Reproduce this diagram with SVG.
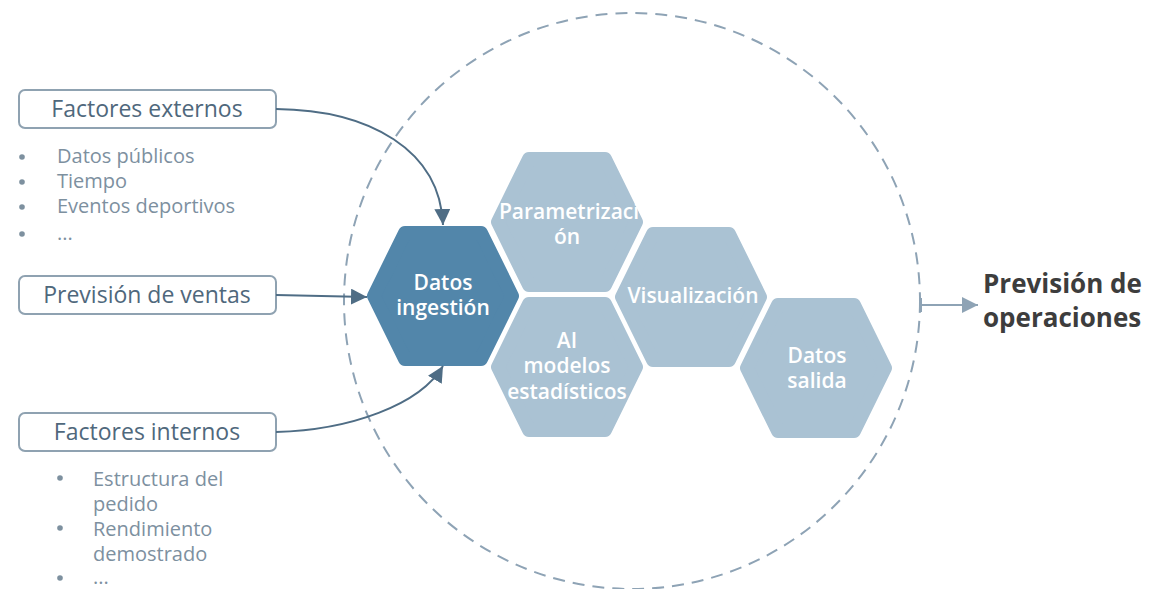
<svg xmlns="http://www.w3.org/2000/svg" width="1151" height="589" viewBox="0 0 1151 589">
<defs>
<style>
text{font-family:"Open Sans","Noto Sans","Liberation Sans",sans-serif}
.box{fill:#fff;stroke:#8fa2b1;stroke-width:2}
.bt{font-size:23px;fill:#4f687c;text-anchor:middle}
.li{font-size:20px;fill:#7d909f}
.dot{fill:#7d909f}
.hd{fill:#5286aa;stroke:#5286aa;stroke-width:14;stroke-linejoin:round}
.hl{fill:#aac2d3;stroke:#aac2d3;stroke-width:14;stroke-linejoin:round}
.ht{font-size:21px;fill:#fff;text-anchor:middle;font-weight:600}
.con{fill:none;stroke:#4f6d85;stroke-width:2}
</style>
<marker id="ah" viewBox="0 0 10 10" refX="10" refY="5" markerWidth="16" markerHeight="16" markerUnits="userSpaceOnUse" orient="auto">
<path d="M0,0 L10,5 L0,10 z" fill="#4f6d85"/>
</marker>
<marker id="ah2" viewBox="0 0 10 10" refX="10" refY="5" markerWidth="16" markerHeight="16" markerUnits="userSpaceOnUse" orient="auto">
<path d="M0,0 L10,5 L0,10 z" fill="#8ea3b5"/>
</marker>
<polygon id="hex" points="-69,0 -38,-63 38,-63 69,0 38,63 -38,63"/>
</defs>
<rect width="1151" height="589" fill="#fff"/>

<circle cx="632" cy="301" r="288" fill="none" stroke="#8ea3b5" stroke-width="2" stroke-dasharray="12,8"/>

<g id="factores-externos">
<rect class="box" x="19" y="90" width="257" height="38" rx="6"/>
<text class="bt" x="147" y="117">Factores externos</text>
<circle class="dot" cx="22" cy="157" r="2.8"/>
<circle class="dot" cx="22" cy="182" r="2.8"/>
<circle class="dot" cx="22" cy="207" r="2.8"/>
<circle class="dot" cx="22" cy="234" r="2.8"/>
<text class="li" x="57" y="163">Datos públicos</text>
<text class="li" x="57" y="188">Tiempo</text>
<text class="li" x="57" y="213">Eventos deportivos</text>
<text class="li" x="57" y="240">...</text>
</g>

<g id="prevision-ventas">
<rect class="box" x="19" y="276" width="257" height="38" rx="6"/>
<text class="bt" x="147" y="303">Previsión de ventas</text>
</g>

<g id="factores-internos">
<rect class="box" x="19" y="413" width="257" height="38" rx="6"/>
<text class="bt" x="147" y="440">Factores internos</text>
<circle class="dot" cx="60" cy="478" r="2.8"/>
<circle class="dot" cx="60" cy="528" r="2.8"/>
<circle class="dot" cx="60" cy="578" r="2.8"/>
<text class="li" x="93" y="486">Estructura del</text>
<text class="li" x="93" y="511">pedido</text>
<text class="li" x="93" y="536">Rendimiento</text>
<text class="li" x="93" y="561">demostrado</text>
<text class="li" x="93" y="584">...</text>
</g>

<g id="datos-ingestion">
<use href="#hex" class="hd" transform="translate(443,296)"/>
<text class="ht" x="443" y="290">Datos</text>
<text class="ht" x="443" y="315">ingestión</text>
</g>

<g id="parametrizacion">
<use href="#hex" class="hl" transform="translate(567,222)"/>
<text class="ht" x="569" y="219">Parametrizaci</text>
<text class="ht" x="567" y="244">ón</text>
</g>

<g id="ai-modelos">
<use href="#hex" class="hl" transform="translate(567,367)"/>
<text class="ht" x="567" y="348">AI</text>
<text class="ht" x="567" y="373">modelos</text>
<text class="ht" x="567" y="399">estadísticos</text>
</g>

<g id="visualizacion">
<use href="#hex" class="hl" transform="translate(691,297)"/>
<text class="ht" x="693" y="303">Visualización</text>
</g>

<g id="datos-salida">
<use href="#hex" class="hl" transform="translate(816,368)"/>
<text class="ht" x="817" y="363">Datos</text>
<text class="ht" x="817" y="388">salida</text>
</g>

<g id="prevision-operaciones">
<text x="983" y="293" font-size="26" font-weight="700" fill="#3d3d3d">Previsión de</text>
<text x="983" y="327" font-size="26" font-weight="700" fill="#3d3d3d">operaciones</text>
</g>

<g id="connectors">
<path class="con" d="M276,109 C370,110 440,150 443,225" marker-end="url(#ah)"/>
<path class="con" d="M276,295 L367,297" marker-end="url(#ah)"/>
<path class="con" d="M276,432 C350,430 420,405 443,366" marker-end="url(#ah)"/>
<line x1="921" y1="298" x2="921" y2="312" stroke="#8ea3b5" stroke-width="2"/>
<path d="M921,305 L978,305" fill="none" stroke="#8ea3b5" stroke-width="2" marker-end="url(#ah2)"/>
</g>
</svg>
